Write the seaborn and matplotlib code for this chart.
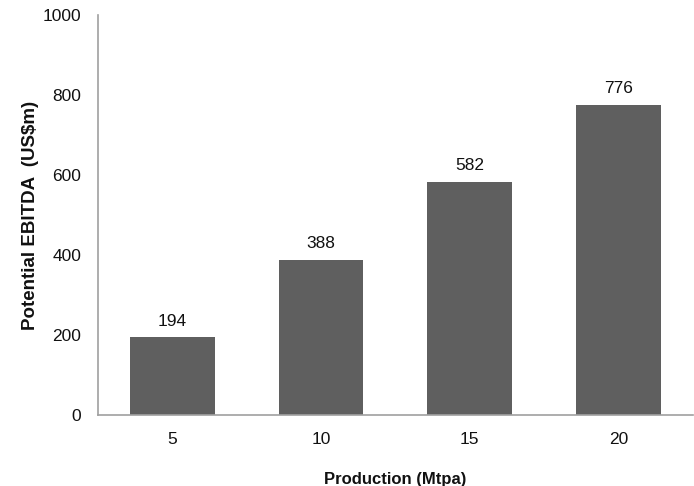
import matplotlib
matplotlib.use("Agg")
import matplotlib.pyplot as plt
import seaborn as sns
import pandas as pd

categories = ["5", "10", "15", "20"]
values = [194, 388, 582, 776]
yticks = [0, 200, 400, 600, 800, 1000]

sns.set_theme(style="white")
plt.rcParams['font.family'] = ['Liberation Sans', 'DejaVu Sans']

df = pd.DataFrame({"Production": categories, "EBITDA": values})

fig = plt.figure(figsize=(6.94, 4.86), dpi=100)
ax = fig.add_axes([0.1412, 0.146, 0.857, 0.823])
sns.barplot(data=df, x="Production", y="EBITDA", order=categories,
            color="#5f5f5f", saturation=1, width=0.57, ax=ax, edgecolor="none")

for i, v in enumerate(values):
    ax.text(i, v + 22, str(v), ha="center", va="bottom", fontsize=12.5, color="#111111")

ax.set_ylim(0, 1000)
ax.set_xlim(-0.5, 3.5)
ax.set_yticks(yticks)
ax.set_yticklabels([str(t) for t in yticks])
ax.tick_params(axis="both", length=0, labelsize=12.5, colors="#111111")
ax.tick_params(axis="x", pad=12)
ax.tick_params(axis="y", pad=12)
ax.set_xlabel("Production (Mtpa)", fontsize=12, fontweight="bold", color="#111111", labelpad=18)
ax.set_ylabel("Potential EBITDA  (US$m)", fontsize=13.5, fontweight="bold", color="#111111")
ax.yaxis.set_label_coords(-0.1, 0.5)
for s in ["top", "right"]:
    ax.spines[s].set_visible(False)
for s in ["left", "bottom"]:
    ax.spines[s].set_color("#a0a0a0")
    ax.spines[s].set_linewidth(1.2)

fig.savefig("out.png", dpi=100)
